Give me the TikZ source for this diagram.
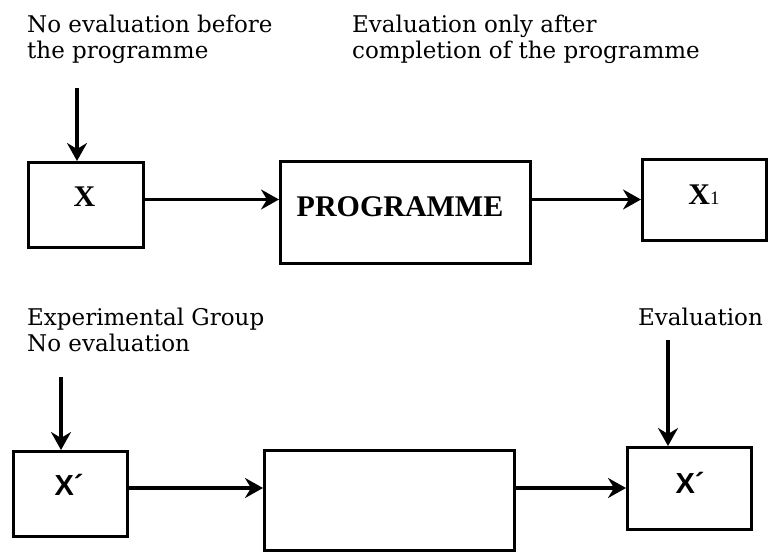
\documentclass[tikz,border=0pt]{standalone}
\usepackage{fontspec}
\setmainfont{DejaVu Serif}
\newfontfamily\boxserif{Liberation Serif}
\newfontfamily\boxsans{Liberation Sans}
\usetikzlibrary{arrows.meta}

\begin{document}
\begin{tikzpicture}[x=1pt,y=-1pt,
  frame/.style={draw=black, line width=3pt, inner sep=0pt},
  flow/.style={line width=3.4pt, -{Stealth[length=18pt,width=20pt,inset=6pt]}},
  note/.style={inner sep=0pt, anchor=base west, font=\fontsize{23}{26}\selectfont},
  serifmark/.style={inner sep=0pt, font=\boxserif\bfseries\fontsize{30}{30}\selectfont},
  sansmark/.style={inner sep=0pt, font=\boxsans\bfseries\fontsize{29}{29}\selectfont}]
\useasboundingbox (0,0) rectangle (771,553);

% captions
\node[note] (capA) at (27,33) {\vtop{\hbox{No evaluation before}\hbox{the programme}}};
\node[note] (capB) at (352,33) {\vtop{\hbox{Evaluation only after}\hbox{completion of the programme}}};
\node[note] (capC) at (27,325) {\vtop{\hbox{Experimental Group}\hbox{No evaluation}}};
\node[note] (capD) at (638,325) {Evaluation};

% upper row
\node[frame, minimum width=115, minimum height=85] (xbox) at (86,205) {};
\node[frame, minimum width=250, minimum height=102] (prog) at (405.5,212.5) {};
\node[frame, minimum width=124, minimum height=81] (xone) at (704.5,200) {};
\node[serifmark] (xlab) at (84.5,196.5) {X};
\node[serifmark] (proglab) at (400,206.5) {PROGRAMME};
\node[serifmark] (xonelab) at (704,195) {X{\mdseries\fontsize{19}{19}\selectfont 1}};

% lower row
\node[frame, minimum width=114, minimum height=85] (xpa) at (70.5,494) {};
\node[frame, minimum width=250, minimum height=100] (mid) at (389.5,500.5) {};
\node[frame, minimum width=124, minimum height=82] (xpb) at (689.5,488.5) {};
\node[sansmark] (xpalab) at (69,485) {X´};
\node[sansmark] (xpblab) at (690,483) {X´};

% connector guides
\coordinate (rowA) at (0,199.5);
\coordinate (rowB) at (0,488);
\coordinate (dropA) at (77,88);
\coordinate (dropB) at (61,377);
\coordinate (dropC) at (668,340);

% connectors
\draw[flow] (dropA) -- (dropA |- xbox.north);
\draw[flow] (xbox.east |- rowA) -- (prog.west |- rowA);
\draw[flow] (prog.east |- rowA) -- (xone.west |- rowA);
\draw[flow] (dropB) -- (dropB |- xpa.north);
\draw[flow] (dropC) -- (dropC |- xpb.north);
\draw[flow] (xpa.east |- rowB) -- (mid.west |- rowB);
\draw[flow] (mid.east |- rowB) -- (xpb.west |- rowB);
\end{tikzpicture}
\end{document}
